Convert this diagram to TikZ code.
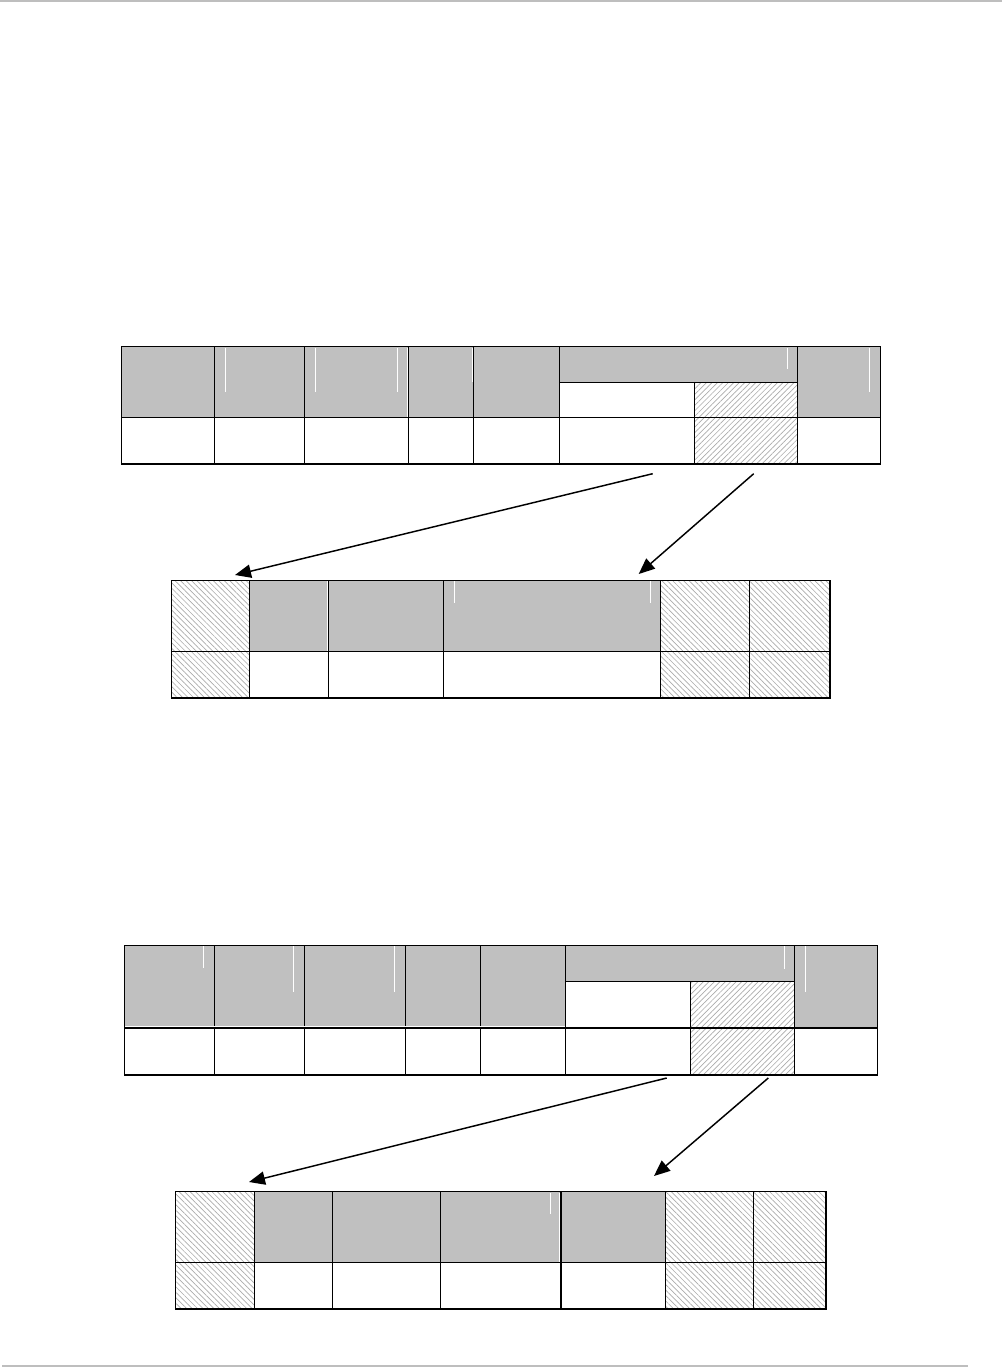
\documentclass[tikz,border=0pt]{standalone}
\usetikzlibrary{fit,patterns.meta,arrows.meta}
\definecolor{hdrgray}{RGB}{192,192,192}
\definecolor{hatchgray}{RGB}{172,172,172}
\definecolor{rulegray}{RGB}{190,190,190}
\tikzset{
  cellbase/.style={draw=black,line width=0.8pt,inner sep=0pt,outer sep=0pt},
  hdrcell/.style={cellbase,fill=hdrgray},
  whitecell/.style={cellbase,fill=white},
  hatchne/.style={cellbase,fill=white,pattern={Lines[angle=45,distance=2.9pt,line width=0.5pt]},pattern color=hatchgray},
  hatchnw/.style={cellbase,fill=white,pattern={Lines[angle=-45,distance=2.9pt,line width=0.5pt]},pattern color=hatchgray},
  glint/.style={draw=white,line width=0.7pt},
  arr/.style={draw=black,line width=1.1pt,-{Triangle[length=12pt,width=10pt]}},
}
\newcommand\cellbox[6]{\node[#6,fit={(#2,#3) (#4,#5)}] (#1) {};}
\begin{document}
\begin{tikzpicture}[x=0.75pt,y=-0.75pt]
\useasboundingbox (0,0) rectangle (1002,1368);
\fill[white] (0,0) rectangle (1002,1368);
% page rules
\fill[rulegray] (0,0) rectangle (1002,2.2);
\fill[rulegray] (2,1364.5) rectangle (968,1366.8);

% ---------- upper frame ----------
\cellbox{a1}{121.7}{346.7}{214.7}{417.3}{hdrcell}
\cellbox{a2}{214.7}{346.7}{304.7}{417.3}{hdrcell}
\cellbox{a3}{304.7}{346.7}{408.3}{417.3}{hdrcell}
\cellbox{a4}{408.3}{346.7}{473.3}{417.3}{hdrcell}
\cellbox{a5}{473.3}{346.7}{559.3}{417.3}{hdrcell}
\cellbox{a6}{559.3}{346.7}{797.7}{382.3}{hdrcell}
\cellbox{a6a}{559.3}{382.3}{694.3}{417.3}{whitecell}
\cellbox{a6b}{694.3}{382.3}{797.7}{417.3}{hatchne}
\cellbox{a7}{797.7}{346.7}{880.7}{417.3}{hdrcell}
\cellbox{b1}{121.7}{417.3}{214.7}{464}{whitecell}
\cellbox{b2}{214.7}{417.3}{304.7}{464}{whitecell}
\cellbox{b3}{304.7}{417.3}{408.3}{464}{whitecell}
\cellbox{b4}{408.3}{417.3}{473.3}{464}{whitecell}
\cellbox{b5}{473.3}{417.3}{559.3}{464}{whitecell}
\cellbox{b6a}{559.3}{417.3}{694.3}{464}{whitecell}
\cellbox{b6b}{694.3}{417.3}{797.7}{464}{hatchne}
\cellbox{b7}{797.7}{417.3}{880.7}{464}{whitecell}
\draw[glint] (225,347.5) -- (225,392);
\draw[glint] (315.3,347.5) -- (315.3,392);
\draw[glint] (397.3,347.5) -- (397.3,392);
\draw[glint] (407,347.5) -- (407,416.5);
\draw[glint] (472.5,347.5) -- (472.5,382);
\draw[glint] (787.3,347.5) -- (787.3,369);
\draw[glint] (869.3,347.5) -- (869.3,392);

% ---------- upper sub-frame ----------
\cellbox{c1}{171.7}{580.3}{249.3}{651.3}{hatchnw}
\cellbox{c2}{249.3}{580.3}{328.3}{651.3}{hdrcell}
\cellbox{c3}{328.3}{580.3}{443.3}{651.3}{hdrcell}
\cellbox{c4}{443.3}{580.3}{660.3}{651.3}{hdrcell}
\cellbox{c5}{660.3}{580.3}{749.3}{651.3}{hatchnw}
\cellbox{c6}{749.3}{580.3}{830}{651.3}{hatchnw}
\cellbox{d1}{171.7}{651.3}{249.3}{698}{hatchnw}
\cellbox{d2}{249.3}{651.3}{328.3}{698}{whitecell}
\cellbox{d3}{328.3}{651.3}{443.3}{698}{whitecell}
\cellbox{d4}{443.3}{651.3}{660.3}{698}{whitecell}
\cellbox{d5}{660.3}{651.3}{749.3}{698}{hatchnw}
\cellbox{d6}{749.3}{651.3}{830}{698}{hatchnw}
\draw[glint] (327.2,581) -- (327.2,650.5);
\draw[glint] (454.3,581) -- (454.3,603);
\draw[glint] (650.3,581) -- (650.3,603);

\coordinate (s1) at (652.7,473.7);
\coordinate (t1) at (235,575);
\coordinate (s2) at (753.7,473.7);
\coordinate (t2) at (638.7,574);
\draw[arr] (s1) -- (t1);
\draw[arr] (s2) -- (t2);

% ---------- lower frame ----------
\cellbox{e1}{124.3}{945.3}{214.3}{1028}{hdrcell}
\cellbox{e2}{214.3}{945.3}{304.3}{1028}{hdrcell}
\cellbox{e3}{304.3}{945.3}{405.3}{1028}{hdrcell}
\cellbox{e4}{405.3}{945.3}{480.3}{1028}{hdrcell}
\cellbox{e5}{480.3}{945.3}{565.7}{1028}{hdrcell}
\cellbox{e6}{565.7}{945.3}{794.3}{981.3}{hdrcell}
\cellbox{e6a}{565.7}{981.3}{690.3}{1028}{whitecell}
\cellbox{e6b}{690.3}{981.3}{794.3}{1028}{hatchne}
\cellbox{e7}{794.3}{945.3}{877.3}{1028}{hdrcell}
\cellbox{f1}{124.3}{1028}{214.3}{1075}{whitecell}
\cellbox{f2}{214.3}{1028}{304.3}{1075}{whitecell}
\cellbox{f3}{304.3}{1028}{405.3}{1075}{whitecell}
\cellbox{f4}{405.3}{1028}{480.3}{1075}{whitecell}
\cellbox{f5}{480.3}{1028}{565.7}{1075}{whitecell}
\cellbox{f6a}{565.7}{1028}{690.3}{1075}{whitecell}
\cellbox{f6b}{690.3}{1028}{794.3}{1075}{hatchne}
\cellbox{f7}{794.3}{1028}{877.3}{1075}{whitecell}
\draw[glint] (203.7,946) -- (203.7,968);
\draw[glint] (293,946) -- (293,992);
\draw[glint] (394.3,946) -- (394.3,992);
\draw[glint] (784.3,946) -- (784.3,969);
\draw[glint] (805.3,946) -- (805.3,992);
\draw[glint] (125,1026.6) -- (565,1026.6);

% ---------- lower sub-frame ----------
\cellbox{g1}{175.3}{1191.7}{254.3}{1262.3}{hatchnw}
\cellbox{g2}{254.3}{1191.7}{332.3}{1262.3}{hdrcell}
\cellbox{g3}{332.3}{1191.7}{440.3}{1262.3}{hdrcell}
\cellbox{g4}{440.3}{1191.7}{561}{1262.3}{hdrcell}
\cellbox{g5}{561}{1191.7}{665.3}{1262.3}{hdrcell}
\cellbox{g6}{665.3}{1191.7}{753.3}{1262.3}{hatchnw}
\cellbox{g7}{753.3}{1191.7}{826}{1262.3}{hatchnw}
\cellbox{h1}{175.3}{1262.3}{254.3}{1309}{hatchnw}
\cellbox{h2}{254.3}{1262.3}{332.3}{1309}{whitecell}
\cellbox{h3}{332.3}{1262.3}{440.3}{1309}{whitecell}
\cellbox{h4}{440.3}{1262.3}{561}{1309}{whitecell}
\cellbox{h5}{561}{1262.3}{665.3}{1309}{whitecell}
\cellbox{h6}{665.3}{1262.3}{753.3}{1309}{hatchnw}
\cellbox{h7}{753.3}{1262.3}{826}{1309}{hatchnw}
\draw[glint] (550.3,1192.5) -- (550.3,1214);
\draw[glint] (559.9,1192.5) -- (559.9,1261.5);

\coordinate (s3) at (666.7,1078);
\coordinate (t3) at (249,1182);
\coordinate (s4) at (768.3,1078);
\coordinate (t4) at (654,1176);
\draw[arr] (s3) -- (t3);
\draw[arr] (s4) -- (t4);
\end{tikzpicture}
\end{document}
